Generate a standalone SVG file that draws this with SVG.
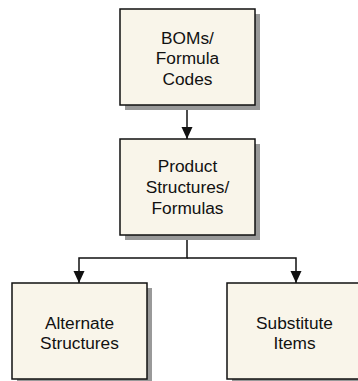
<svg xmlns="http://www.w3.org/2000/svg" width="358" height="381" viewBox="0 0 358 381">
<defs>
<style>
.shadow{fill:#999999;}
.box{fill:#f9f5ea;stroke:#111111;stroke-width:1.5;}
.lbl{font-family:"Liberation Sans",Arial,sans-serif;font-size:17.3px;fill:#111111;text-anchor:middle;}
.conn{fill:none;stroke:#111111;stroke-width:1.5;}
</style>
<marker id="arr" viewBox="0 0 12 12" refX="12" refY="6" markerWidth="12" markerHeight="12" markerUnits="userSpaceOnUse" orient="auto">
<path d="M0,0.5 L12,6 L0,11.5 Z" fill="#111111"/>
</marker>
</defs>
<rect width="358" height="381" fill="#ffffff"/>
<g id="connectors">
<path class="conn" d="M187,105 V139" marker-end="url(#arr)"/>
<path class="conn" d="M187,235 V258 H79 V283" marker-end="url(#arr)"/>
<path class="conn" d="M187,258 H296 V283" marker-end="url(#arr)"/>
</g>
<g id="node-boms">
<rect class="shadow" x="125" y="14" width="135" height="96"/>
<rect class="box" x="120" y="9" width="135" height="96"/>
<text class="lbl" x="187.5" y="43.5">BOMs/</text>
<text class="lbl" x="187.5" y="64">Formula</text>
<text class="lbl" x="187.5" y="84.5">Codes</text>
</g>
<g id="node-product">
<rect class="shadow" x="125" y="144" width="135" height="96"/>
<rect class="box" x="120" y="139" width="135" height="96"/>
<text class="lbl" x="187.5" y="172">Product</text>
<text class="lbl" x="187.5" y="192.5">Structures/</text>
<text class="lbl" x="187.5" y="213.5">Formulas</text>
</g>
<g id="node-alternate">
<rect class="shadow" x="17" y="288" width="135" height="96"/>
<rect class="box" x="12" y="283" width="135" height="96"/>
<text class="lbl" x="79.5" y="328.5">Alternate</text>
<text class="lbl" x="79.5" y="348.5">Structures</text>
</g>
<g id="node-substitute">
<rect class="shadow" x="232" y="288" width="135" height="96"/>
<rect class="box" x="227" y="283" width="135" height="96"/>
<text class="lbl" x="294.5" y="328.5">Substitute</text>
<text class="lbl" x="294.5" y="348.5">Items</text>
</g>
</svg>
